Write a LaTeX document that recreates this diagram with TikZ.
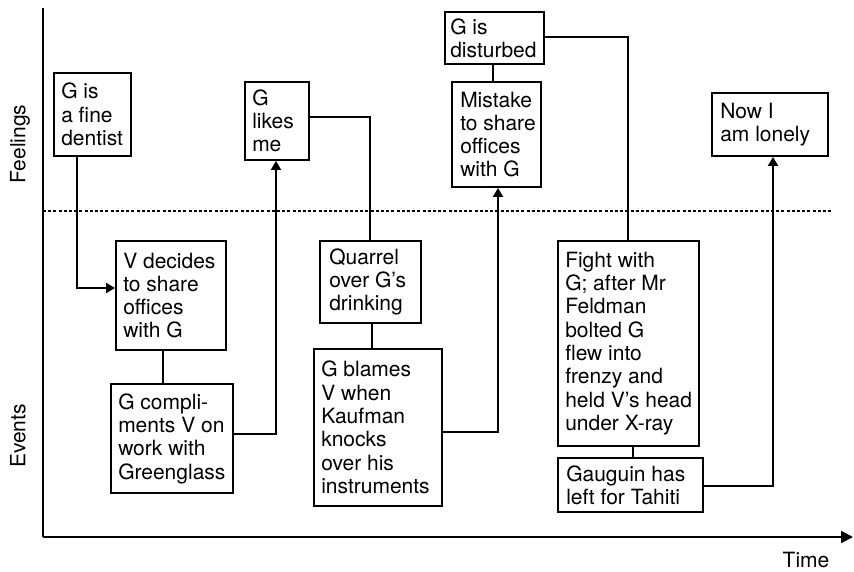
\documentclass[tikz,border=0pt]{standalone}
\usepackage{fontspec}
\setmainfont{TeX Gyre Heros}
\usetikzlibrary{arrows.meta}
\begin{document}
\begin{tikzpicture}[x=1pt,y=-1pt,
  box/.style={draw, line width=1.9pt, inner sep=0pt},
  txt/.style={anchor=west, align=left, inner sep=0pt,
    font=\fontsize{21}{23.3}\selectfont},
  link/.style={line width=1.9pt},
  arr/.style={line width=1.9pt, -{Triangle[length=9pt,width=10pt]}},
  axis/.style={line width=2pt},
  lab/.style={font=\fontsize{21}{23.3}\selectfont, inner sep=0pt}]
\useasboundingbox (0,0) rectangle (854,571);
% axes
\coordinate (org) at (43,537);
\coordinate (top) at (43,8);
\coordinate (tend) at (853,537);
\draw[axis] (top) -- (org);
\draw[axis, -{Triangle[length=12pt,width=12pt]}] (org) -- (tend);
\coordinate (dl) at (43,211);
\coordinate (dr) at (831,211);
\draw[line width=1.3pt, dash pattern=on 3pt off 2.2pt] (dl) -- (dr);
% axis labels
\node[lab, rotate=90] (feel) at (20,144) {Feelings};
\node[lab, rotate=90] (ev) at (18,436) {Events};
\node[lab] (time) at (806,560) {Time};
% boxes
\node[box, minimum width=77pt, minimum height=83pt] (b1) at (92.5,114.5) {};
\node[txt] (t1) at ([xshift=8pt]b1.west) {G is\\a fine\\dentist};
\node[box, minimum width=110pt, minimum height=109pt] (b2) at (171,295.5) {};
\node[txt] (t2) at ([xshift=8pt]b2.west) {V decides\\to share\\offices\\with G};
\node[box, minimum width=122pt, minimum height=109pt] (b3) at (172,438.5) {};
\node[txt] (t3) at ([xshift=8pt]b3.west) {G compli-\\ments V on\\work with\\Greenglass};
\node[box, minimum width=64pt, minimum height=78pt] (b4) at (277,121) {};
\node[txt] (t4) at ([xshift=8pt]b4.west) {G\\likes\\me};
\node[box, minimum width=101pt, minimum height=82pt] (b5) at (370.5,282) {};
\node[txt] (t5) at ([xshift=10pt]b5.west) {Quarrel\\over G's\\drinking};
\node[box, minimum width=128pt, minimum height=157pt] (b6) at (378,427.5) {};
\node[txt] (t6) at ([xshift=8pt]b6.west) {G blames\\V when\\Kaufman\\knocks\\over his\\instruments};
\node[box, minimum width=89pt, minimum height=105pt] (b7) at (496.5,134.5) {};
\node[txt] (t7) at ([xshift=9pt]b7.west) {Mistake\\to share\\offices\\with G};
\node[box, minimum width=99pt, minimum height=52pt] (b8) at (494.5,38) {};
\node[txt] (t8) at ([xshift=6pt]b8.west) {G is\\disturbed};
\node[box, minimum width=141pt, minimum height=205pt] (b9) at (628.5,343.5) {};
\node[txt] (t9) at ([xshift=8pt]b9.west) {Fight with\\G; after Mr\\Feldman\\bolted G\\flew into\\frenzy and\\held V's head\\under X-ray};
\node[box, minimum width=145pt, minimum height=54pt] (b10) at (630.5,485) {};
\node[txt] (t10) at ([xshift=9pt]b10.west) {Gauguin has\\left for Tahiti};
\node[box, minimum width=116pt, minimum height=63pt] (b11) at (770,124.5) {};
\node[txt] (t11) at ([xshift=9pt]b11.west) {Now I\\am lonely};
% connector guide points
\coordinate (k1) at (77,288);
\coordinate (k2) at (163,0);
\coordinate (k3) at (276,434);
\coordinate (k4) at (370,117);
\coordinate (k5) at (372,0);
\coordinate (k6) at (498,432);
\coordinate (k7) at (493,0);
\coordinate (k8) at (628,37);
\coordinate (k9) at (633,0);
\coordinate (k10) at (773,486);
% connectors
\draw[arr] (b1.south -| k1) |- (k1 -| b2.west);
\draw[link] (b2.south -| k2) -- (b3.north -| k2);
\draw[arr] (k3 -| b3.east) -| (b4.south -| k3);
\draw[link] (k4 -| b4.east) -| (b5.north -| k4);
\draw[link] (b5.south -| k5) -- (b6.north -| k5);
\draw[arr] (k6 -| b6.east) -| (b7.south -| k6);
\draw[link] (b8.south -| k7) -- (b7.north -| k7);
\draw[link] (k8 -| b8.east) -| (b9.north -| k8);
\draw[link] (b9.south -| k9) -- (b10.north -| k9);
\draw[arr] (k10 -| b10.east) -| (b11.south -| k10);
\end{tikzpicture}
\end{document}
